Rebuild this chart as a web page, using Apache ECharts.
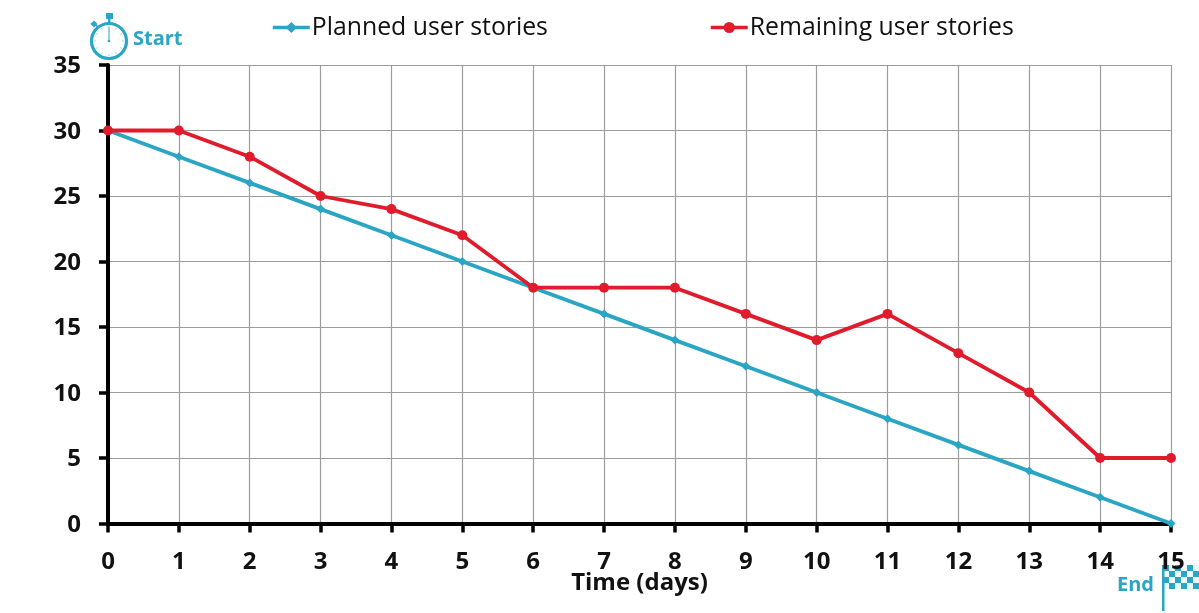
<!DOCTYPE html>
<html>
<head>
<meta charset="utf-8">
<style>html,body{margin:0;padding:0;background:#fff}#chart{width:1199px;height:613px}</style>
<script src="https://cdn.jsdelivr.net/npm/echarts@6/dist/echarts.min.js"></script>
</head>
<body>
<div id="chart"></div>
<script>
// Sprint burndown: planned versus remaining user stories per day
const days = [0, 1, 2, 3, 4, 5, 6, 7, 8, 9, 10, 11, 12, 13, 14, 15];
const planned = [30, 28, 26, 24, 22, 20, 18, 16, 14, 12, 10, 8, 6, 4, 2, 0];
const remaining = [30, 30, 28, 25, 24, 22, 18, 18, 18, 16, 14, 16, 13, 10, 5, 5];

const TEAL = '#2aa5c3';
const RED = '#e01b2b';
const FONT = '"Open Sans", "Noto Sans", sans-serif';

const pairs = (ys) => days.map((d, i) => [d, ys[i]]);

// Stopwatch beside the start of the timeline
const watchCenter = [109, 41];
const watchTicks = [];
for (let k = 0; k < 12; k++) {
  const a = k * Math.PI / 6;
  watchTicks.push({
    type: 'line',
    shape: {
      x1: watchCenter[0] + 15 * Math.sin(a), y1: watchCenter[1] - 15 * Math.cos(a),
      x2: watchCenter[0] + 13 * Math.sin(a), y2: watchCenter[1] - 13 * Math.cos(a)
    },
    style: { stroke: '#9fd6e4', lineWidth: 1 }
  });
}
const stopwatch = [
  { type: 'circle', shape: { cx: watchCenter[0], cy: watchCenter[1], r: 17.5 }, style: { fill: '#fff', stroke: TEAL, lineWidth: 3.2 } },
  { type: 'rect', shape: { x: 106, y: 13, width: 7, height: 6 }, style: { fill: TEAL } },
  { type: 'rect', shape: { x: 108, y: 18, width: 2.5, height: 4 }, style: { fill: TEAL } },
  { type: 'rect', shape: { x: -2.5, y: -2.5, width: 5, height: 5 }, x: 94, y: 24, rotation: Math.PI / 4, style: { fill: TEAL } },
  { type: 'line', shape: { x1: 96, y1: 25, x2: 99, y2: 28 }, style: { stroke: TEAL, lineWidth: 1.5 } },
  { type: 'line', shape: { x1: 109, y1: 27, x2: 109, y2: 41 }, style: { stroke: TEAL, lineWidth: 1 } },
  { type: 'circle', shape: { cx: 109, cy: 41, r: 1.3 }, style: { fill: TEAL } },
  ...watchTicks,
  { type: 'text', x: 133, y: 29, style: { text: 'Start', fill: TEAL, font: 'bold 20px ' + FONT } }
];

// Chequered flag marking the end of the timeline
const flagCells = [];
const cell = 6;
for (let r = 0; r < 4; r++) {
  for (let c = 0; c < 6; c++) {
    flagCells.push({
      type: 'rect',
      shape: { x: 1163 + c * cell, y: 565 + r * cell, width: cell, height: cell },
      style: { fill: (r + c) % 2 === 0 ? TEAL : '#eef8fb' }
    });
  }
}
const endFlag = [
  ...flagCells,
  { type: 'rect', shape: { x: 1162, y: 565, width: 2.5, height: 46 }, style: { fill: TEAL } },
  { type: 'text', x: 1117, y: 575, style: { text: 'End', fill: TEAL, font: 'bold 20px ' + FONT } }
];

const chart = echarts.init(document.getElementById('chart'), null, { renderer: 'canvas' });
chart.setOption({
  animation: false,
  backgroundColor: '#fff',
  grid: { left: 108, right: 28, top: 65, bottom: 89.5 },
  legend: {
    left: 266, top: 10, itemWidth: 37, itemHeight: 14, itemGap: 161,
    lineStyle: { width: 3.6 },
    textStyle: { fontFamily: FONT, fontSize: 24.8, color: '#111', padding: [0, 0, 0, -3] },
    data: ['Planned user stories', 'Remaining user stories']
  },
  xAxis: {
    type: 'value', min: 0, max: 15, interval: 1,
    name: 'Time (days)', nameLocation: 'middle', nameGap: 48, nameMoveOverlap: false,
    nameTextStyle: { fontFamily: FONT, fontSize: 24, fontWeight: 'bold', color: '#111' },
    axisLine: { show: true, onZero: false, lineStyle: { color: '#000', width: 4 } },
    axisTick: { show: true, length: 9, lineStyle: { color: '#000', width: 3.5 } },
    axisLabel: { fontFamily: FONT, fontSize: 24, fontWeight: 'bold', color: '#111', margin: 27, showMinLabel: true, showMaxLabel: true },
    splitLine: { show: true, lineStyle: { color: '#9c9c9c', width: 1.2 } }
  },
  yAxis: {
    type: 'value', min: 0, max: 35, interval: 5,
    axisLine: { show: true, lineStyle: { color: '#000', width: 4 } },
    axisTick: { show: true, length: 9, lineStyle: { color: '#000', width: 3.5 } },
    axisLabel: {
      margin: 27,
      formatter: '{tick|{value}}',
      rich: { tick: { fontFamily: FONT, fontSize: 24, fontWeight: 'bold', color: '#111', padding: [3, 0, 0, 0] } }
    },
    splitLine: { show: true, lineStyle: { color: '#9c9c9c', width: 1.2 } }
  },
  series: [
    {
      name: 'Planned user stories', type: 'line', data: pairs(planned), clip: false, z: 3,
      symbol: 'diamond', symbolSize: 9,
      lineStyle: { color: TEAL, width: 3.8 }, itemStyle: { color: TEAL }
    },
    {
      name: 'Remaining user stories', type: 'line', data: pairs(remaining), clip: false, z: 4,
      symbol: 'circle', symbolSize: 10,
      lineStyle: { color: RED, width: 3.8 }, itemStyle: { color: RED }
    }
  ],
  graphic: { elements: [...stopwatch, ...endFlag] }
});
</script>
</body>
</html>
